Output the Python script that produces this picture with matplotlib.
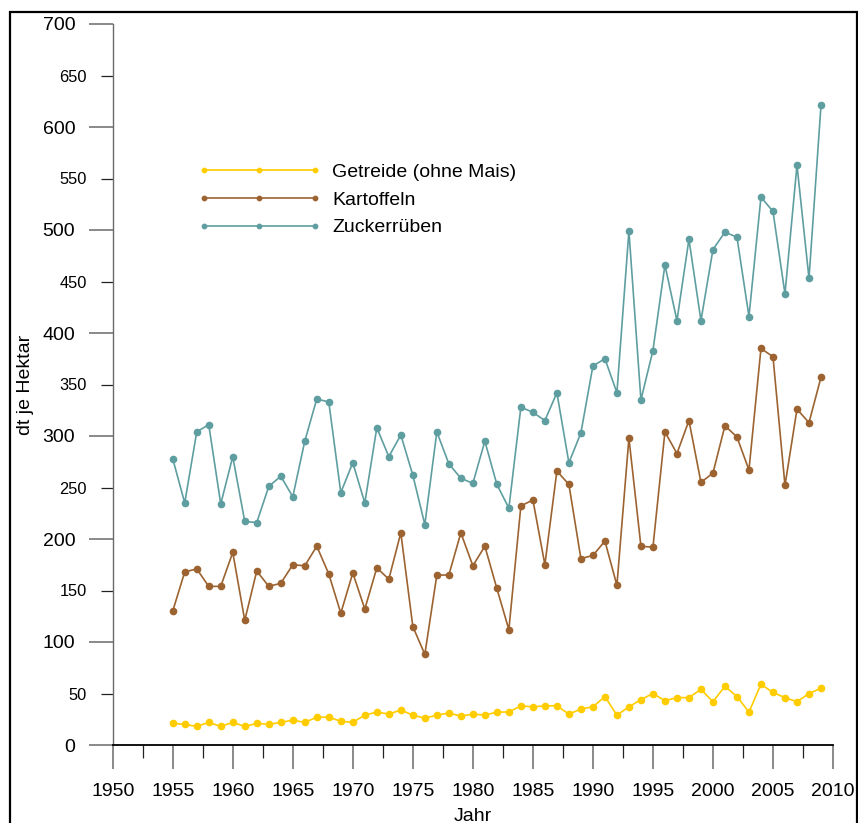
import matplotlib
matplotlib.use("Agg")
import matplotlib.pyplot as plt
from matplotlib.patches import Rectangle
from matplotlib.ticker import MultipleLocator

plt.rcParams["font.family"] = ["Liberation Sans", "DejaVu Sans"]

# Erträge in dt je Hektar, 1955-2009
jahre = list(range(1955, 2010))

getreide = [21, 20, 18, 22, 18, 22, 18, 21, 20, 22,
            24, 22, 27, 27, 23, 22, 29, 32, 30, 34,
            29, 26, 29, 31, 28, 30, 29, 32, 32, 38,
            37, 38, 38, 30, 35, 37, 47, 29, 37, 44,
            50, 43, 46, 46, 54, 42, 57, 47, 32, 59,
            51, 46, 42, 50, 55]

kartoffeln = [130, 168, 171, 154, 154, 187, 121, 169, 154, 157,
              175, 174, 193, 166, 128, 167, 132, 172, 161, 206,
              115, 88, 165, 165, 206, 174, 193, 152, 112, 232,
              238, 175, 266, 253, 181, 184, 198, 155, 298, 193,
              192, 304, 283, 315, 255, 264, 310, 299, 267, 385,
              377, 252, 326, 313, 357]

zuckerrueben = [278, 235, 304, 311, 234, 280, 217, 216, 251, 261,
                241, 295, 336, 333, 245, 274, 235, 308, 280, 301,
                262, 214, 304, 273, 259, 254, 295, 253, 230, 328,
                323, 315, 342, 274, 303, 368, 375, 342, 499, 335,
                383, 466, 412, 491, 412, 481, 498, 493, 416, 532,
                518, 438, 563, 453, 621]

serien = [
    ("Getreide (ohne Mais)", getreide, "#FFCC00"),
    ("Kartoffeln", kartoffeln, "#9C6330"),
    ("Zuckerrüben", zuckerrueben, "#5F9EA0"),
]

W, H = 858, 823
fig = plt.figure(figsize=(W / 100, H / 100), dpi=100)
ax = fig.add_axes([112.7 / W, (H - 745) / H, 720.3 / W, 721 / H])

for name, werte, farbe in serien:
    ax.plot(jahre, werte, color=farbe, lw=1.2, marker="o", ms=4.5,
            mec=farbe, mfc=farbe, label=name, clip_on=False)

ax.set_xlim(1950, 2010)
ax.set_ylim(0, 700)

# Achsen
for s in ("top", "right"):
    ax.spines[s].set_visible(False)
ax.spines["left"].set_color("#6a6a6a")
ax.spines["left"].set_linewidth(1.0)
ax.spines["bottom"].set_color("black")
ax.spines["bottom"].set_linewidth(1.3)

ax.xaxis.set_major_locator(MultipleLocator(5))
ax.xaxis.set_minor_locator(MultipleLocator(2.5))
ax.yaxis.set_major_locator(MultipleLocator(100))
ax.yaxis.set_minor_locator(MultipleLocator(50))

ax.tick_params(axis="both", which="major", direction="out", length=17.5,
               width=1.1, color="#6a6a6a", labelsize=14, pad=9.5,
               labelcolor="black")
ax.tick_params(axis="both", which="minor", direction="out", length=9,
               width=0.9, color="#222222", pad=9.5)
ax.tick_params(axis="y", which="minor", labelsize=11.8)
ax.yaxis.set_minor_formatter(matplotlib.ticker.FuncFormatter(
    lambda v, p: f"{int(v)}" if v % 100 else ""))
ax.xaxis.set_minor_formatter(matplotlib.ticker.NullFormatter())

ax.set_xlabel("Jahr", fontsize=14)
ax.xaxis.set_label_coords(0.5, -0.087)
ax.set_ylabel("dt je Hektar", fontsize=14)
ax.yaxis.set_label_coords(-0.109, 0.5)

leg = ax.legend(loc="upper left", bbox_to_anchor=(198 / W, (H - 163) / H),
                bbox_transform=fig.transFigure, frameon=False, fontsize=14,
                numpoints=3, handlelength=6.3, handletextpad=0.6,
                labelspacing=0.53, borderpad=0, borderaxespad=0,
                markerscale=0.7)

# Rahmen um die Grafik
fig.patches.append(Rectangle((10 / W, -0.1), 847 / W, 1.1 - 12 / H,
                             transform=fig.transFigure, fill=False,
                             edgecolor="black", linewidth=1.6))

fig.savefig("out.png", dpi=100)
